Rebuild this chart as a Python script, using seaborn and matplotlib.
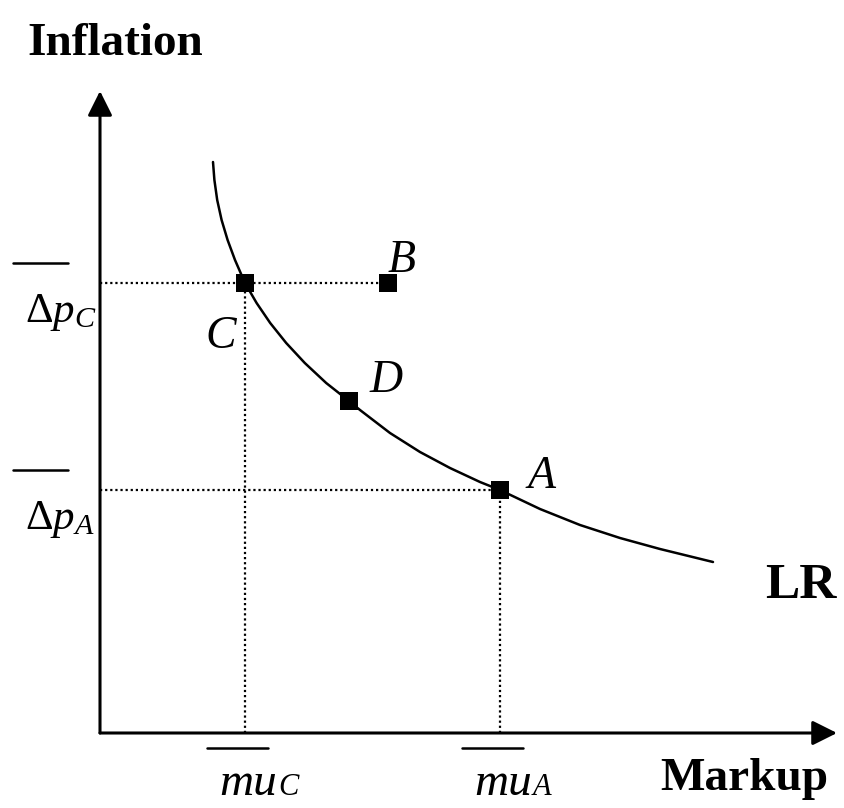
import matplotlib
matplotlib.use("Agg")
import seaborn as sns
import matplotlib.pyplot as plt

sns.set_theme(style="white")
plt.rcParams["font.family"] = ["Liberation Serif", "DejaVu Serif"]
plt.rcParams["text.color"] = "black"
plt.rcParams["mathtext.fontset"] = "custom"
plt.rcParams["mathtext.rm"] = "Liberation Serif"
plt.rcParams["mathtext.it"] = "Liberation Serif:italic"

# long-run (LR) curve
lr_markup = [11.3, 11.44, 11.72, 12.16, 12.76, 13.5, 14.5,
             15.66, 17.02, 18.62, 20.48, 22.62, 24.9,
             26.0, 29.0, 32.0, 35.0, 38.0, 40.0,
             44.0, 48.0, 52.0, 56.0, 61.3]
lr_inflation = [57.1, 55.3, 53.3, 51.3, 49.3, 47.3, 45.0,
                43.0, 41.0, 39.0, 37.0, 35.0, 33.2,
                32.3, 30.0, 28.1, 26.5, 25.1, 24.3,
                22.4, 20.8, 19.5, 18.4, 17.1]

# marked points
point_names = ["A", "B", "C", "D"]
point_markup = [40.0, 28.8, 14.5, 24.9]
point_inflation = [24.3, 45.0, 45.0, 33.2]

mu = dict(zip(point_names, point_markup))
infl = dict(zip(point_names, point_inflation))

fig = plt.figure(figsize=(8.45, 8.08), dpi=100)
ax = fig.add_axes([0, 0, 1, 1])
ax.set_xlim(-10, 74.5)
ax.set_ylim(-7.5, 73.3)
ax.set_axis_off()

# axes with arrow heads
arrow = dict(arrowstyle="-|>,head_length=1,head_width=0.5", lw=2.2, color="black",
             mutation_scale=15, shrinkA=0, shrinkB=0)
ax.annotate("", xy=(73.7, 0), xytext=(0, 0), arrowprops=arrow)
ax.annotate("", xy=(0, 64.2), xytext=(0, 0), arrowprops=arrow)

# dotted guides
dot = dict(color="black", lw=1.6, linestyle=(0, (1, 1.3)))
ax.plot([0, mu["B"]], [infl["C"], infl["B"]], **dot)
ax.plot([0, mu["A"]], [infl["A"], infl["A"]], **dot)
ax.plot([mu["C"], mu["C"]], [0, infl["C"]], **dot)
ax.plot([mu["A"], mu["A"]], [0, infl["A"]], **dot)

sns.lineplot(x=lr_markup, y=lr_inflation, sort=False, estimator=None, color="black",
             lw=1.8, ax=ax)
sns.scatterplot(x=point_markup, y=point_inflation, marker="s", s=150, color="black",
                linewidth=0, ax=ax, zorder=5)

# point letters
letter_pos = {"A": (42.8, 24.5), "B": (28.8, 46.1), "C": (10.5, 38.5), "D": (27.0, 34.1)}
for name in point_names:
    ax.text(*letter_pos[name], name, fontsize=33, style="italic", va="baseline", ha="left")

# axis titles
ax.text(-7.3, 67.8, "Inflation", fontsize=34, weight="bold", va="baseline")
ax.text(56.0, -5.7, "Markup", fontsize=34, weight="bold", va="baseline")
ax.text(66.5, 13.5, "LR", fontsize=37, weight="bold", va="baseline")

# y tick labels with bars
for name in ["C", "A"]:
    y = infl[name]
    ax.text(-7.5, y - 3.9, r"$\Delta p_{%s}$" % name, fontsize=31, va="baseline")
    ax.plot([-8.7, -3.2], [y + 2.0, y + 2.0], color="black", lw=1.8)

# x tick labels with bars
for name in ["C", "A"]:
    x = mu[name]
    ax.plot([x - 3.8, x + 2.3], [-1.5, -1.5], color="black", lw=1.8)
    ax.text(x - 2.6, -6.2, "mu", fontsize=34, style="italic", va="baseline")
    ax.text(x + 3.3, -6.2, name, fontsize=22, style="italic", va="baseline")

fig.savefig("out.png", dpi=100)
